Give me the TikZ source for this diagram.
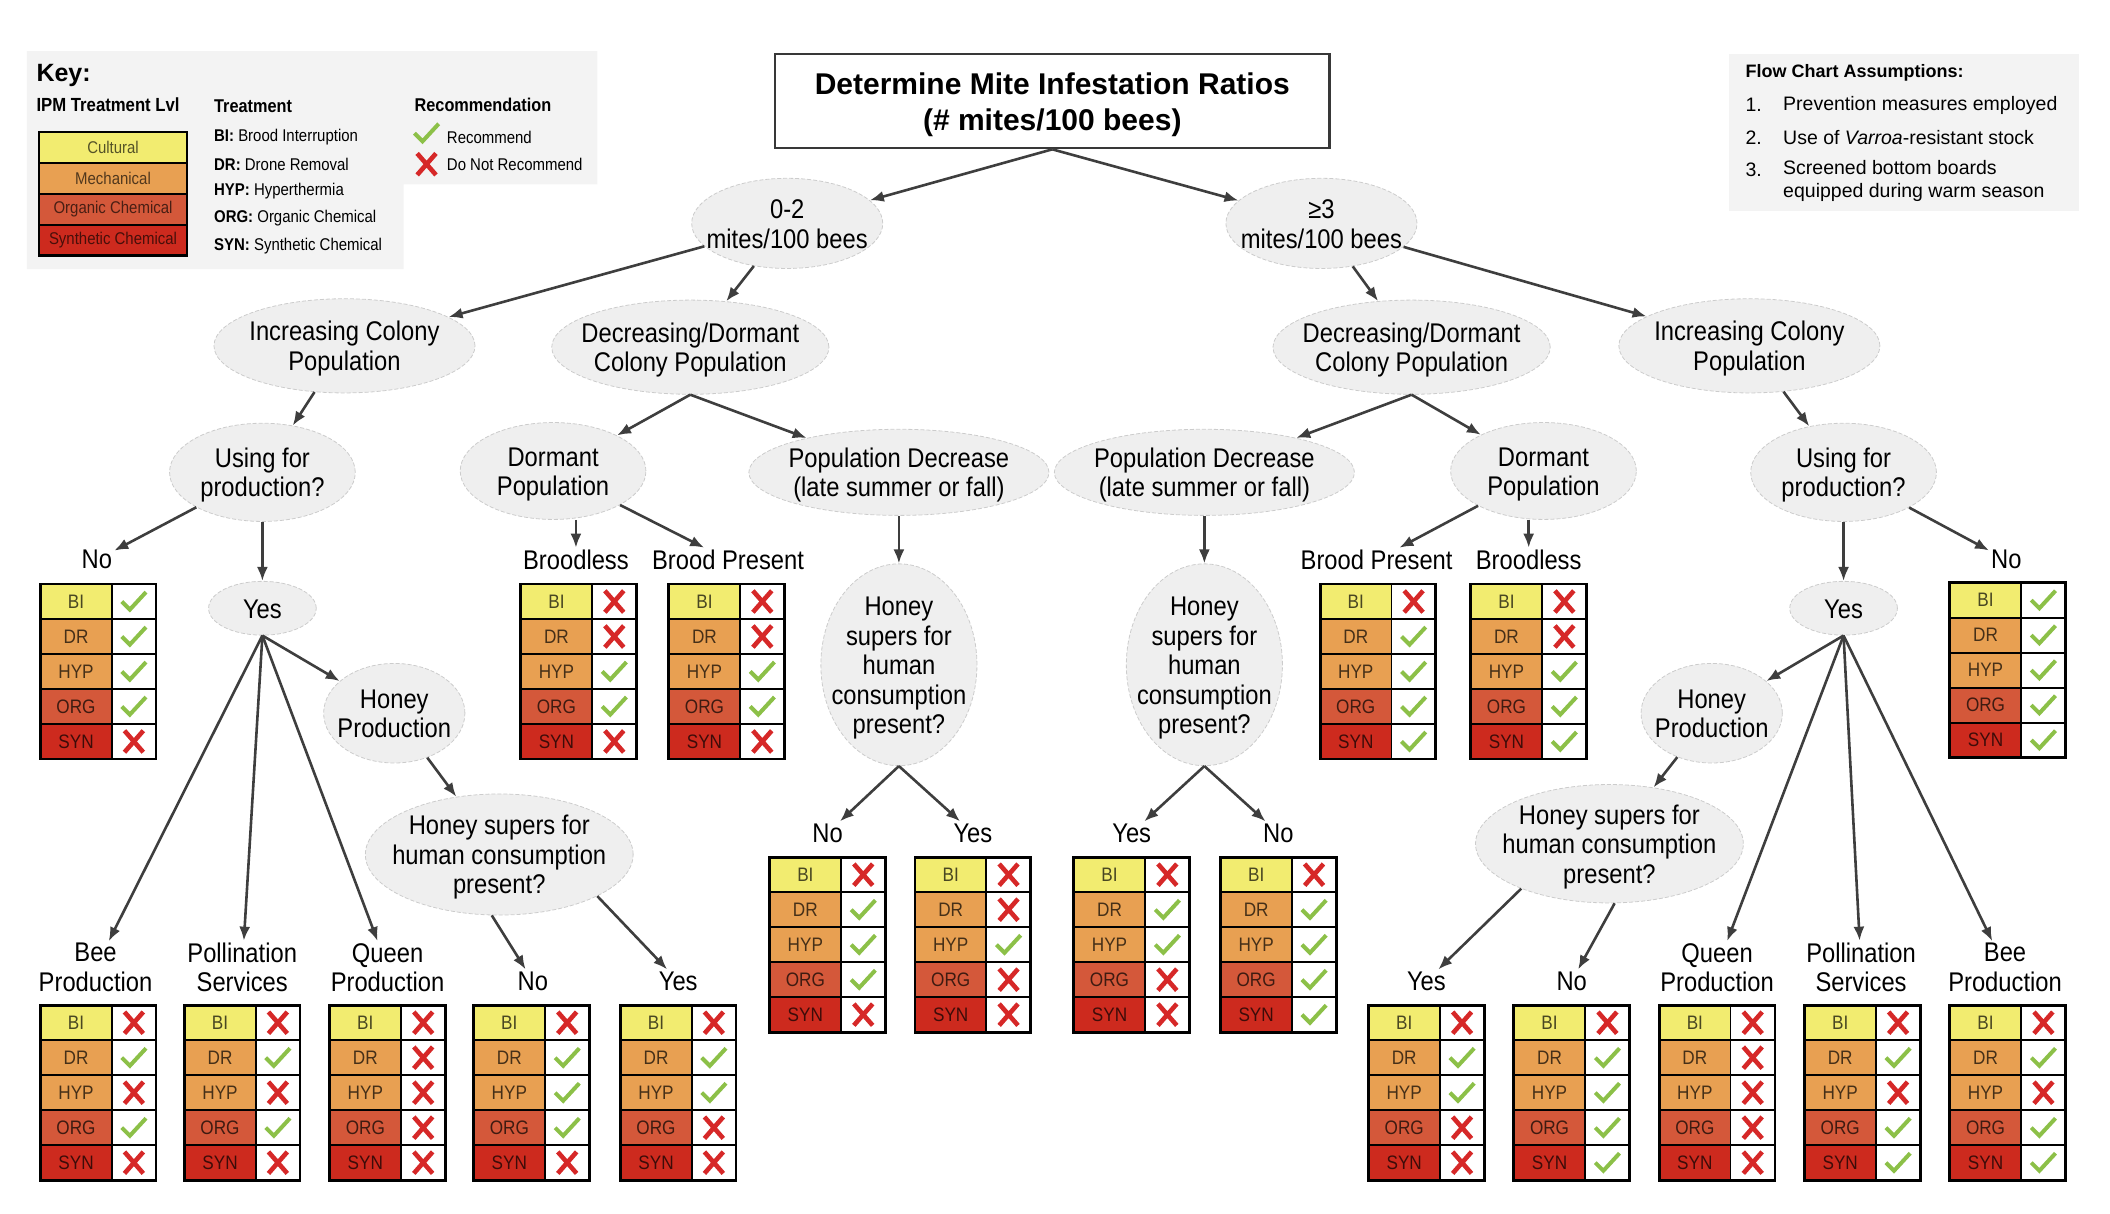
\documentclass[tikz,border=0pt]{standalone}
\usepackage{fontspec}
\setmainfont{Liberation Sans}
\newfontfamily\narrowfont[FakeStretch=0.88]{Liberation Sans}
\usetikzlibrary{arrows.meta,shapes.geometric,positioning}

\definecolor{ipmyel}{RGB}{242,236,112}
\definecolor{ipmora}{RGB}{232,160,82}
\definecolor{ipmorg}{RGB}{212,88,58}
\definecolor{ipmsyn}{RGB}{205,42,30}
\definecolor{bubgray}{RGB}{239,239,239}
\definecolor{keygray}{RGB}{243,243,243}
\definecolor{arrowgray}{RGB}{62,62,62}
\definecolor{okgreen}{RGB}{140,192,72}
\definecolor{nored}{RGB}{214,40,40}

\newcommand{\nodefont}{\narrowfont\fontsize{27}{29.5}\selectfont}
\newcommand{\cellfont}{\narrowfont\fontsize{19.5}{22}\selectfont}
\newcommand{\keyfont}{\narrowfont\fontsize{17}{20}\selectfont}

% bubble text that takes no room, so the bubble keeps its given size
\newcommand{\bubtxt}[1]{\vbox to 0pt{\vss\hbox to 0pt{\hss\begin{tabular}{@{}c@{}}#1\end{tabular}\hss}\vss\kern-8pt}}

% table of five treatments: name, top-left, marks (y = recommend, n = not)
\newcommand{\ipmtable}[7]{%
  \begin{scope}[shift={#2}]
    \foreach \lbl/\col/\mk [count=\r from 0] in {BI/ipmyel/#3,DR/ipmora/#4,HYP/ipmora/#5,ORG/ipmorg/#6,SYN/ipmsyn/#7}{
      \fill[\col] (0,{26*\r}) rectangle (53,{26*\r+26});
      \node[celltxt, text=\col!30!black] (#1-\lbl) at (26.5,{26*\r+13}) {\lbl};
      \if y\mk \pic at (69.5,{26*\r+13}) {chkmk}; \else \pic at (69.5,{26*\r+13}) {crsmk}; \fi
    }
    \foreach \r in {1,...,4} \draw[line width=1.8pt] (0,{26*\r}) -- (86,{26*\r});
    \draw[line width=1.8pt] (53,0) -- (53,130);
    \draw[line width=2.8pt] (0,0) rectangle (86,130);
  \end{scope}}

\begin{document}
\begin{tikzpicture}[
	x=1.3457pt,y=-1.3457pt,
	every node/.style={font=\nodefont},
	bub/.style={ellipse, fill=bubgray, draw=black!20, dash pattern=on 4pt off 2pt, line width=0.8pt, inner sep=0pt},
	sz/.style 2 args={minimum width=#1*1.3457pt, minimum height=#2*1.3457pt},
	lbl/.style={align=center, inner sep=2pt},
	arr/.style={-{Latex[length=14pt,width=11pt]}, draw=arrowgray, line width=2.6pt},
	celltxt/.style={font=\cellfont, inner sep=0pt},
	keycell/.style={font=\keyfont, inner sep=0pt},
	keytxt/.style={font=\keyfont, anchor=west, inner sep=0pt},
	chkmk/.pic={\draw[okgreen, line width=4pt] (-9,0) -- (-3,6) -- (9,-7);},
	crsmk/.pic={\draw[nored, line width=4.6pt] (-7,-8) -- (7,8) (-7,8) -- (7,-8);}
	]
	\useasboundingbox (0,0) rectangle (1568,902);
	
	% --------------------------
	% Key
	% --------------------------
	\fill[keygray] (20,38) -- (444,38) -- (444,137) -- (300,137) -- (300,200) -- (20,200) -- cycle;
	\node[anchor=west, inner sep=0pt, font=\bfseries\fontsize{25}{28}\selectfont] (keyhd) at (27,56) {Key:};
	\node[keytxt, font=\narrowfont\bfseries\fontsize{19}{22}\selectfont] (ipmhd) at (27,78) {IPM Treatment Lvl};
	\node[keytxt, font=\narrowfont\bfseries\fontsize{18.5}{22}\selectfont] (trhd) at (159,79) {Treatment};
	\node[keytxt, font=\narrowfont\bfseries\fontsize{18.5}{22}\selectfont] (rechd) at (308,78) {Recommendation};
	
	\foreach \lbl/\col [count=\r from 0] in {Cultural/ipmyel,Mechanical/ipmora,Organic Chemical/ipmorg,Synthetic Chemical/ipmsyn}{
		\fill[\col] (29,{98+23*\r}) rectangle (139,{121+23*\r});
		\node[keycell, text=\col!35!black] (key-\r) at (84,{109.5+23*\r}) {\lbl};
	}
	\foreach \r in {1,2,3} \draw[line width=1.6pt] (29,{98+23*\r}) -- (139,{98+23*\r});
	\draw[line width=2.6pt] (29,98) rectangle (139,190);
	
	\node[keytxt] (trBI) at (159,102) {\textbf{BI:} Brood Interruption};
	\node[keytxt] (trDR) at (159,122) {\textbf{DR:} Drone Removal};
	\node[keytxt] (trHYP) at (159,142) {\textbf{HYP:} Hyperthermia};
	\node[keytxt] (trORG) at (159,162) {\textbf{ORG:} Organic Chemical};
	\node[keytxt] (trSYN) at (159,183) {\textbf{SYN:} Synthetic Chemical};
	
	\pic at (317,99) {chkmk};
	\pic at (317,122) {crsmk};
	\node[keytxt] (recY) at (332,102) {Recommend};
	\node[keytxt] (recN) at (332,122) {Do Not Recommend};
	
	% --------------------------
	% Assumptions
	% --------------------------
	\fill[keygray] (1285,40) rectangle (1545,157);
	\node[anchor=west, inner sep=0pt, font=\bfseries\fontsize{18}{21}\selectfont] (ashd) at (1297,54) {Flow Chart Assumptions:};
	\begin{scope}[every node/.style={anchor=west, inner sep=0pt, align=left, font=\fontsize{19.5}{23}\selectfont}]
		\node (as1n) at (1297,78) {1.};
		\node (as1) at (1325,78) {Prevention measures employed};
		\node (as2n) at (1297,102) {2.};
		\node (as2) at (1325,102) {Use of \textit{Varroa}-resistant stock};
		\node (as3n) at (1297,126) {3.};
		\node (as3) at (1325,134.5) {Screened bottom boards\\equipped during warm season};
	\end{scope}
	
	% --------------------------
	% Title and first split
	% --------------------------
	\node[draw=black!78, line width=2.6pt, fill=white, inner sep=0pt, sz={412}{70},
		font=\bfseries\fontsize{30}{36}\selectfont] (title) at (782,75)
		{\bubtxt{Determine Mite Infestation Ratios\\(\# mites/100 bees)}};
	\node[bub, sz={142}{67}] (lo) at (585,166) {\bubtxt{0-2\\mites/100 bees}};
	\node[bub, sz={142}{67}] (hi) at (982,166) {\bubtxt{≥3\\mites/100 bees}};
	
	% --------------------------
	% Left branch: 0-2 mites
	% --------------------------
	\node[bub, sz={194}{70}] (incL) at (256,257) {\bubtxt{Increasing Colony\\Population}};
	\node[bub, sz={206}{70}] (decL) at (513,258) {\bubtxt{Decreasing/Dormant\\Colony Population}};
	\node[bub, sz={138}{73}] (useL) at (195,351) {\bubtxt{Using for\\production?}};
	\node[bub, sz={138}{72}] (dormL) at (411,350) {\bubtxt{Dormant\\Population}};
	\node[bub, sz={223}{64}] (popL) at (668,351) {\bubtxt{Population Decrease\\(late summer or fall)}};
	\node[lbl] (noA) at (72,416) {No};
	\node[bub, sz={80}{40}] (yesL) at (195,452) {\bubtxt{Yes}};
	\node[lbl] (brlL) at (428,416) {Broodless};
	\node[lbl] (bpL) at (541,416) {Brood Present};
	\node[bub, sz={116}{150}] (hsL) at (668,494) {\bubtxt{Honey\\supers for\\human\\consumption\\present?}};
	\node[bub, sz={105}{74}] (honL) at (293,530) {\bubtxt{Honey\\Production}};
	\node[bub, sz={199}{90}] (supL) at (371,635) {\bubtxt{Honey supers for\\human consumption\\present?}};
	\node[lbl] (noC) at (615,619) {No};
	\node[lbl] (yesC) at (723,619) {Yes};
	\node[lbl] (beeL) at (71,719) {Bee\\Production};
	\node[lbl] (polL) at (180,719) {Pollination\\Services};
	\node[lbl] (queL) at (288,719) {Queen\\Production};
	\node[lbl] (noB) at (396,729) {No};
	\node[lbl] (yesB) at (504,729) {Yes};
	
	% --------------------------
	% Right branch: >=3 mites
	% --------------------------
	\node[bub, sz={206}{70}] (decR) at (1049,258) {\bubtxt{Decreasing/Dormant\\Colony Population}};
	\node[bub, sz={194}{70}] (incR) at (1300,257) {\bubtxt{Increasing Colony\\Population}};
	\node[bub, sz={223}{64}] (popR) at (895,351) {\bubtxt{Population Decrease\\(late summer or fall)}};
	\node[bub, sz={138}{72}] (dormR) at (1147,350) {\bubtxt{Dormant\\Population}};
	\node[bub, sz={138}{73}] (useR) at (1370,351) {\bubtxt{Using for\\production?}};
	\node[lbl] (bpR) at (1023,416) {Brood Present};
	\node[lbl] (brlR) at (1136,416) {Broodless};
	\node[lbl] (noR) at (1491,416) {No};
	\node[bub, sz={80}{40}] (yesR) at (1370,452) {\bubtxt{Yes}};
	\node[bub, sz={116}{150}] (hsR) at (895,494) {\bubtxt{Honey\\supers for\\human\\consumption\\present?}};
	\node[bub, sz={105}{74}] (honR) at (1272,530) {\bubtxt{Honey\\Production}};
	\node[bub, sz={199}{88}] (supR) at (1196,627) {\bubtxt{Honey supers for\\human consumption\\present?}};
	\node[lbl] (yesD) at (841,619) {Yes};
	\node[lbl] (noD) at (950,619) {No};
	\node[lbl] (yesE) at (1060,729) {Yes};
	\node[lbl] (noE) at (1168,729) {No};
	\node[lbl] (queR) at (1276,719) {Queen\\Production};
	\node[lbl] (polR) at (1383,719) {Pollination\\Services};
	\node[lbl] (beeR) at (1490,719) {Bee\\Production};
	
	% --------------------------
	% Arrows
	% --------------------------
	\draw[arr] (title.south) -- (lo);
	\draw[arr] (title.south) -- (hi);
	\draw[arr] (lo) -- (incL);
	\draw[arr] (lo) -- (decL);
	\draw[arr] (hi) -- (decR);
	\draw[arr] (hi) -- (incR);
	
	\draw[arr] (incL) -- (useL);
	\draw[arr] (decL.south) -- (dormL);
	\draw[arr] (decL.south) -- (popL);
	\draw[arr] (useL) -- (noA);
	\draw[arr] (useL) -- (yesL);
	\draw[arr] (dormL.south -| brlL) -- (brlL);
	\draw[arr] (dormL) -- (bpL);
	\draw[arr] (popL) -- (hsL);
	\draw[arr] (hsL.south) -- (noC);
	\draw[arr] (hsL.south) -- (yesC);
	\draw[arr] (yesL.south) -- (beeL);
	\draw[arr] (yesL.south) -- (polL);
	\draw[arr] (yesL.south) -- (queL);
	\draw[arr] (yesL.south) -- (honL);
	\draw[arr] (honL) -- (supL);
	\draw[arr] (supL.263) -- (noB);
	\draw[arr] (supL.-23) -- (yesB);
	
	\draw[arr] (incR) -- (useR);
	\draw[arr] (decR.south) -- (popR);
	\draw[arr] (decR.south) -- (dormR);
	\draw[arr] (dormR) -- (bpR);
	\draw[arr] (dormR.south -| brlR) -- (brlR);
	\draw[arr] (popR) -- (hsR);
	\draw[arr] (hsR.south) -- (yesD);
	\draw[arr] (hsR.south) -- (noD);
	\draw[arr] (useR) -- (noR);
	\draw[arr] (useR) -- (yesR);
	\draw[arr] (yesR.south) -- (honR);
	\draw[arr] (yesR.south) -- (queR);
	\draw[arr] (yesR.south) -- (polR);
	\draw[arr] (yesR.south) -- (beeR);
	\draw[arr] (honR) -- (supR);
	\draw[arr] (supR.207) -- (yesE);
	\draw[arr] (supR.275) -- (noE);
	
	% --------------------------
	% Treatment tables
	% --------------------------
	\ipmtable{tNoA}{(30,434)}{y}{y}{y}{y}{n}
	\ipmtable{tBrlL}{(387,434)}{n}{n}{y}{y}{n}
	\ipmtable{tBpL}{(497,434)}{n}{n}{y}{y}{n}
	\ipmtable{tNoC}{(572,637)}{n}{y}{y}{y}{n}
	\ipmtable{tYesC}{(680,637)}{n}{n}{y}{n}{n}
	\ipmtable{tYesD}{(798,637)}{n}{y}{y}{n}{n}
	\ipmtable{tNoD}{(907,637)}{n}{y}{y}{y}{y}
	\ipmtable{tBpR}{(981,434)}{n}{y}{y}{y}{y}
	\ipmtable{tBrlR}{(1093,434)}{n}{n}{y}{y}{y}
	\ipmtable{tNoR}{(1449,433)}{y}{y}{y}{y}{y}
	
	\ipmtable{tBeeL}{(30,747)}{n}{y}{n}{y}{n}
	\ipmtable{tPolL}{(137,747)}{n}{y}{n}{y}{n}
	\ipmtable{tQueL}{(245,747)}{n}{n}{n}{n}{n}
	\ipmtable{tNoB}{(352,747)}{n}{y}{y}{y}{n}
	\ipmtable{tYesB}{(461,747)}{n}{y}{y}{n}{n}
	\ipmtable{tYesE}{(1017,747)}{n}{y}{y}{n}{n}
	\ipmtable{tNoE}{(1125,747)}{n}{y}{y}{y}{y}
	\ipmtable{tQueR}{(1233,747)}{n}{n}{n}{n}{n}
	\ipmtable{tPolR}{(1341,747)}{n}{y}{n}{y}{y}
	\ipmtable{tBeeR}{(1449,747)}{n}{y}{n}{y}{y}
	
\end{tikzpicture}
\end{document}
